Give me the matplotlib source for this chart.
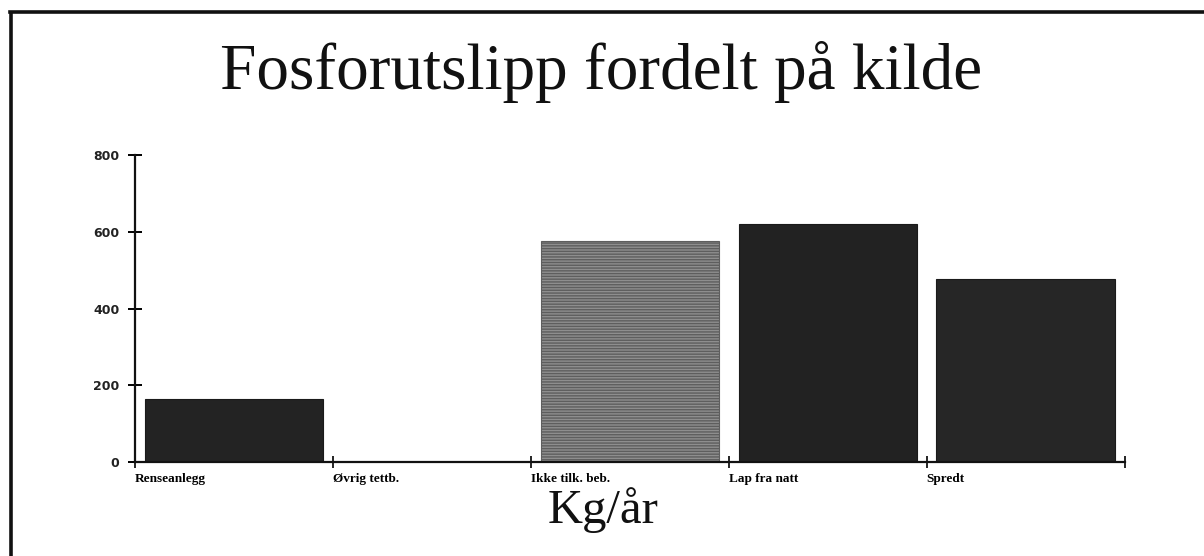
import matplotlib
matplotlib.use("Agg")
import matplotlib.pyplot as plt
from matplotlib.lines import Line2D
import numpy as np

# data
categories = ["Renseanlegg", "Øvrig tettb.", "Ikke tilk. beb.", "Lap fra natt", "Spredt"]
values = [165, 0, 577, 620, 478]
y_ticks = [0, 200, 400, 600, 800]

title = "Fosforutslipp fordelt på kilde"
unit_label = "Kg/år"

bar_colors = ["#232323", "#232323", "#8e8e8e", "#222222", "#262626"]


def main():
    fig = plt.figure(figsize=(12.04, 5.56), dpi=100)
    fig.patch.set_facecolor("white")

    # page frame (only the top and left rules survive in the scan)
    fig.add_artist(Line2D([0.009, 0.009], [0.0, 0.977], color="#111111", lw=2.6,
                          transform=fig.transFigure))
    fig.add_artist(Line2D([0.008, 1.0], [0.978, 0.978], color="#111111", lw=2.6,
                          transform=fig.transFigure))

    ax = fig.add_axes([0.112, 0.169, 0.822, 0.552])

    x = np.arange(len(categories)) + 0.5
    bars = ax.bar(x, values, width=0.9, color=bar_colors, edgecolor="#1a1a1a", linewidth=0.8)
    # the third bar is a grey, streaky raster in the original
    bars[2].set_hatch("------")
    bars[2].set_edgecolor("#5e5e5e")

    ax.set_xlim(0, len(categories))
    ax.set_ylim(0, 800)

    ax.spines["top"].set_visible(False)
    ax.spines["right"].set_visible(False)
    for s in ("left", "bottom"):
        ax.spines[s].set_linewidth(1.6)
        ax.spines[s].set_color("#111111")

    ax.set_yticks(y_ticks)
    ax.set_yticklabels([str(v) for v in y_ticks], fontsize=9, fontweight="bold",
                       family="DejaVu Sans", color="#222222")
    ax.tick_params(axis="y", direction="inout", length=10, width=1.4, pad=6)

    ax.set_xticks(np.arange(len(categories) + 1))
    ax.set_xticklabels(categories + [""], fontsize=9.5, fontweight="bold",
                       family="Liberation Serif", ha="left")
    ax.tick_params(axis="x", direction="inout", length=8, width=1.2, pad=4)

    fig.text(0.499, 1 - 72 / 556, title, ha="center", va="center",
             family="Liberation Serif", fontsize=47, color="#111111")
    fig.text(0.501, 0.083, unit_label, ha="center", va="center",
             family="Liberation Serif", fontsize=35, color="#111111")

    fig.savefig("out.png", dpi=100, facecolor="white")


if __name__ == "__main__":
    main()
